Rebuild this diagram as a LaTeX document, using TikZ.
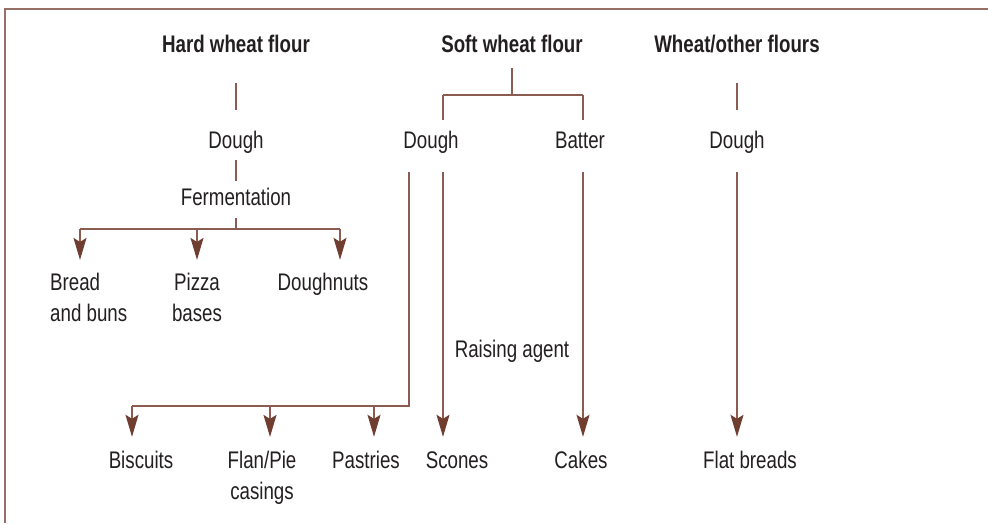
\documentclass[tikz,border=0pt]{standalone}
\usepackage{fontspec}
\setmainfont{Liberation Sans}[FakeStretch=0.78]
\usepackage{xcolor}
\usepackage{tikz}
\usetikzlibrary{positioning,arrows.meta}

\definecolor{flowline}{RGB}{140,92,80}
\definecolor{flowtip}{RGB}{112,62,48}
\definecolor{flowtext}{RGB}{35,31,32}
\definecolor{frameline}{RGB}{150,112,102}

\begin{document}
\begin{tikzpicture}[x=1pt, y=-1pt, >={Stealth[length=22pt,width=13pt,inset=4pt,color=flowtip]},
  lbl/.style={inner sep=0pt, anchor=base, text=flowtext, font=\fontsize{24}{31}\selectfont, align=center},
  word/.style={lbl, text height=17.5pt, text depth=5pt},
  head/.style={word, font=\fontsize{24}{31}\selectfont\bfseries},
  link/.style={draw=flowline, line width=1.3pt}]
\useasboundingbox (0,0) rectangle (988,523);
\draw[frameline, line width=1.2pt] (988,9) -- (5,9) -- (5,523);

% flour types
\node[head] (hard) at (236,52) {Hard wheat flour};
\node[head] (soft) at (512,52) {Soft wheat flour};
\node[head] (other) at (737,52) {Wheat/other flours};

% dough and batter
\node[word] (hdough) at (236,148) {Dough};
\node[word] (sdough) at (431,148) {Dough};
\node[word] (batter) at (580,148) {Batter};
\node[word] (odough) at (737,148) {Dough};
\node[word] (ferm) at (236,205) {Fermentation};
\node[word] (raising) at (512,357) {Raising agent};

% products (two-line nodes sit on their last baseline)
\node[lbl, anchor=base west, align=left] (bread) at (50,321) {Bread\\and buns};
\node[lbl] (pizza) at (197,321) {Pizza\\bases};
\node[word] (doughnuts) at (323,290) {Doughnuts};
\node[word] (biscuits) at (141,468) {Biscuits};
\node[lbl] (flan) at (262,499) {Flan/Pie\\casings};
\node[word] (pastries) at (366,468) {Pastries};
\node[word] (scones) at (457,468) {Scones};
\node[word] (cakes) at (581,468) {Cakes};
\node[word] (flat) at (750,468) {Flat breads};

% branch points
\coordinate (fl) at (80,229);
\coordinate (fm) at (236,229);
\coordinate (fr) at (340,229);
\coordinate (sl) at (443,95);
\coordinate (sm) at (512,95);
\coordinate (sr) at (583,95);
\coordinate (dl) at (409,406);
\coordinate (bl) at (132,406);
\coordinate (bm) at (270,406);
\coordinate (br) at (374,406);

% hard wheat
\draw[link, shorten <=26pt, shorten >=20.5pt] (hard) -- (hdough);
\draw[link, shorten <=7pt, shorten >=6.5pt] (hdough) -- (ferm);
\draw[link, shorten <=8pt] (ferm) -- (fm);
\draw[link] (fl) -- (fr);
\draw[link, ->, shorten >=12.5pt] (fl) -- (bread.north -| fl);
\draw[link, ->, shorten >=12.5pt] (fm -| pizza) -- (pizza.north);
\draw[link, ->, shorten >=12.5pt] (fr) -- (doughnuts.north -| fr);

% soft wheat
\draw[link, shorten <=11pt] (soft) -- (sm);
\draw[link] (sl) -- (sr);
\draw[link, shorten >=10.5pt] (sl) -- (sdough.north -| sl);
\draw[link, shorten >=10.5pt] (sr) -- (batter.north -| sr);
\draw[link, ->, shorten <=19pt, shorten >=13.5pt] (sdough.south -| sl) -- (scones.north -| sl);
\draw[link, ->, shorten <=19pt, shorten >=13.5pt] (batter.south -| sr) -- (cakes.north -| sr);
\draw[link, shorten <=19pt] (sdough.south -| dl) -- (dl) -- (bl);
\draw[link, ->, shorten >=13.5pt] (bl) -- (biscuits.north -| bl);
\draw[link, ->, shorten >=13.5pt] (bm) -- (flan.north -| bm);
\draw[link, ->, shorten >=13.5pt] (br) -- (pastries.north -| br);

% wheat/other
\draw[link, shorten <=26pt, shorten >=20.5pt] (other) -- (odough);
\draw[link, ->, shorten <=19pt, shorten >=13.5pt] (odough) -- (flat.north -| odough);
\end{tikzpicture}
\end{document}
